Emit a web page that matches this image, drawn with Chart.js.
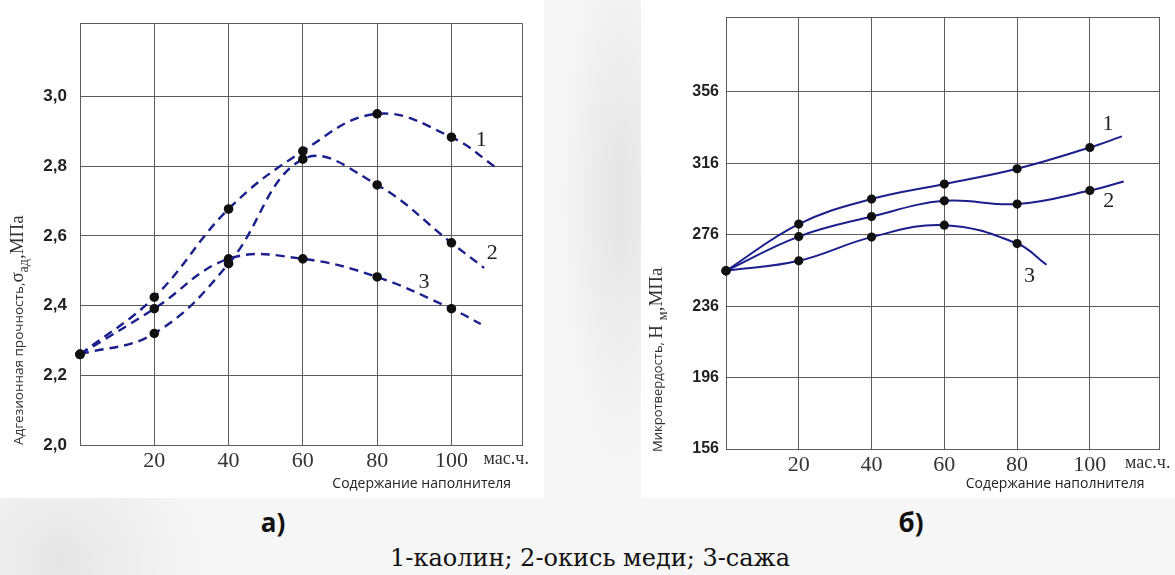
<!DOCTYPE html>
<html>
<head>
<meta charset="utf-8">
<script src="https://cdn.jsdelivr.net/npm/chart.js@4.4.1/dist/chart.umd.min.js"></script>
<style>
  html, body { margin: 0; padding: 0; }
  body {
    width: 1175px; height: 575px; position: relative; overflow: hidden;
    background:
      radial-gradient(circle at 60px 560px, #e6e6e6 0px, rgba(240,240,240,0) 140px),
      radial-gradient(ellipse 60px 260px at 620px 200px, #e4e4e4 0%, rgba(240,240,240,0) 100%),
      #f6f6f6;
    font-family: "Open Sans", sans-serif;
  }
  .panel { position: absolute; top: 0; height: 498px; background: #fff; }
  canvas { position: absolute; top: 0; }
  .mark { position: absolute; font-weight: bold; font-size: 26px; color: #111; transform: translate(-50%, -50%); font-family: "Open Sans", sans-serif; }
  #caption { position: absolute; top: 558px; left: 590px; transform: translate(-50%, -50%); font-family: "DejaVu Serif", serif; font-size: 24px; color: #111; white-space: nowrap; }
</style>
</head>
<body>
<div class="panel" style="left:0; width:544px;"></div>
<div class="panel" style="left:641px; width:534px;"></div>
<canvas id="chartA" width="580" height="498" style="left:0;"></canvas>
<canvas id="chartB" width="575" height="498" style="left:600px;"></canvas>
<div class="mark" style="left:273px; top:522px;">а)</div>
<div class="mark" style="left:911px; top:522px;">б)</div>
<div id="caption">1-каолин; 2-окись меди; 3-сажа</div>
<script>
// filler content, mass parts
const contentTicks = [0, 20, 40, 60, 80, 100, 119];
const adhesionTicks = [2.0, 2.2, 2.4, 2.6, 2.8, 3.0, 3.21];
const hardnessTicks = [156, 196, 236, 276, 316, 356, 398];

// a) adhesion strength, MPa (last point = unmarked tail of the curve)
const kaolinAX = [0, 20, 40, 60, 80, 100, 112.5];
const kaolinAY = [2.26, 2.424, 2.677, 2.843, 2.95, 2.883, 2.792];
const copperAX = [0, 20, 40, 60, 80, 100, 108.8];
const copperAY = [2.26, 2.32, 2.52, 2.82, 2.746, 2.58, 2.508];
const sootAX = [0, 20, 40, 60, 80, 100, 107.9];
const sootAY = [2.26, 2.391, 2.534, 2.534, 2.482, 2.391, 2.347];

// б) microhardness, MPa
const kaolinBX = [0, 20, 40, 60, 80, 100, 108.8];
const kaolinBY = [255.8, 282.0, 296.0, 304.4, 313.0, 324.9, 331.1];
const copperBX = [0, 20, 40, 60, 80, 100, 109.3];
const copperBY = [255.8, 275.0, 286.2, 295.0, 293.2, 300.8, 305.9];
const sootBX = [0, 20, 40, 60, 80, 88.1];
const sootBY = [255.8, 261.4, 274.7, 281.4, 271.1, 259.2];

// curve numbers, placed in data units
const curveNames = ['1', '2', '3'];
const nameXA = [108, 111, 92.6];
const nameYA = [2.875, 2.551, 2.467];
const nameXB = [105, 105.2, 83.4];
const nameYB = [337.7, 294.7, 252.6];

const unitLabel = 'мас.ч.';
const xTitle = 'Содержание наполнителя';

const gridColor = '#5c5c5c';
const lineColor = '#1a1f8c';

function toPoints(xs, ys) {
	return xs.map((x, i) => ({x: x, y: ys[i]}));
}

function curve(xs, ys, dashed) {
	return {
		data: toPoints(xs, ys),
		borderColor: lineColor,
		borderWidth: dashed ? 2.4 : 2,
		borderDash: dashed ? [9, 6] : [],
		tension: 0.4,
		fill: false,
		clip: false,
		pointBackgroundColor: '#111',
		pointBorderColor: '#111',
		pointRadius: ctx => ctx.dataIndex < xs.length - 1 ? 3.6 : 0,
		pointHoverRadius: 0
	};
}

// y titles are mixed-font with a subscript, so draw them by hand
const axisTitlePlugin = {
	id: 'axisTitle',
	afterDraw(chart, args, opts) {
		const {ctx, chartArea} = chart;
		ctx.save();
		ctx.translate(chartArea.left + opts.offsetX, chartArea.bottom + opts.offsetY);
		ctx.rotate(-Math.PI / 2);
		ctx.fillStyle = '#333';
		ctx.textAlign = 'left';
		ctx.textBaseline = 'alphabetic';
		let u = 0;
		for (const run of opts.runs) {
			ctx.font = run.font;
			ctx.fillText(run.text, u, run.dy || 0);
			u += ctx.measureText(run.text).width;
		}
		ctx.restore();
	}
};

const curveNamesPlugin = {
	id: 'curveNames',
	afterDatasetsDraw(chart, args, opts) {
		const {ctx, scales} = chart;
		ctx.save();
		ctx.font = '22px "Liberation Serif"';
		ctx.fillStyle = '#222';
		ctx.textAlign = 'center';
		ctx.textBaseline = 'middle';
		curveNames.forEach((name, i) => {
			ctx.fillText(name, scales.x.getPixelForValue(opts.xs[i]), scales.y.getPixelForValue(opts.ys[i]));
		});
		ctx.restore();
	}
};

function makeChart(id, cfg) {
	return new Chart(document.getElementById(id), {
		type: 'line',
		data: {datasets: cfg.datasets},
		plugins: [axisTitlePlugin, curveNamesPlugin],
		options: {
			responsive: false,
			animation: false,
			devicePixelRatio: 1,
			layout: {padding: cfg.padding},
			plugins: {
				legend: {display: false},
				tooltip: {enabled: false},
				axisTitle: cfg.yTitle,
				curveNames: cfg.names
			},
			scales: {
				x: {
					type: 'linear',
					min: 0,
					max: 119,
					afterBuildTicks: s => { s.ticks = contentTicks.map(v => ({value: v})); },
					afterFit: s => { s.height = cfg.xHeight; s.paddingLeft = 0; s.paddingRight = 0; },
					grid: {color: gridColor, lineWidth: 1, drawTicks: false},
					border: {color: gridColor, width: 1},
					ticks: {
						padding: 3,
						autoSkip: false,
						maxRotation: 0,
						color: '#333',
						font: ctx => ctx.tick && ctx.tick.value === 119
							? {family: '"Liberation Serif"', size: 18}
							: {family: '"Liberation Serif"', size: 22},
						callback: v => v === 0 ? '' : (v === 119 ? unitLabel + '\u00a0'.repeat(cfg.unitPad) : String(v))
					},
					title: {
						display: true,
						text: xTitle + '\u00a0'.repeat(cfg.titlePad),
						align: 'end',
						color: '#222',
						font: {family: '"Open Sans"', size: 14},
						padding: {top: 0, bottom: 6}
					}
				},
				y: {
					type: 'linear',
					min: cfg.yTicks[0],
					max: cfg.yTicks[cfg.yTicks.length - 1],
					afterBuildTicks: s => { s.ticks = cfg.yTicks.map(v => ({value: v})); },
					afterFit: s => { s.width = cfg.yWidth; },
					grid: {color: gridColor, lineWidth: 1, drawTicks: false},
					border: {color: gridColor, width: 1},
					ticks: {
						padding: cfg.yPad,
						color: '#222',
						font: {family: '"Liberation Sans"', size: cfg.yFont, weight: 'bold'},
						callback: (v, i) => i === cfg.yTicks.length - 1 ? '' : cfg.fmt(v)
					}
				}
			}
		}
	});
}

makeChart('chartA', {
	datasets: [
		curve(kaolinAX, kaolinAY, true),
		curve(copperAX, copperAY, true),
		curve(sootAX, sootAY, true)
	],
	yTicks: adhesionTicks,
	fmt: v => v.toFixed(1).replace('.', ','),
	padding: {top: 12, right: 58, left: 0, bottom: 0},
	xHeight: 53,
	yWidth: 80,
	yPad: 13,
	yFont: 17,
	unitPad: 7,
	titlePad: 3,
	names: {xs: nameXA, ys: nameYA},
	yTitle: {
		offsetX: -57,
		offsetY: 0,
		runs: [
			{text: 'Адгезионная прочность,', font: '13.5px "Open Sans"'},
			{text: 'σ', font: '19px "Liberation Serif"'},
			{text: 'ад', font: '14px "Liberation Serif"', dy: 5},
			{text: ',МПа', font: '19px "Liberation Serif"'}
		]
	}
});

makeChart('chartB', {
	datasets: [
		curve(kaolinBX, kaolinBY, false),
		curve(copperBX, copperBY, false),
		curve(sootBX, sootBY, false)
	],
	yTicks: hardnessTicks,
	fmt: v => String(v),
	padding: {top: 17, right: 16, left: 0, bottom: 0},
	xHeight: 49,
	yWidth: 126,
	yPad: 7,
	yFont: 16,
	unitPad: 5,
	titlePad: 4,
	names: {xs: nameXB, ys: nameYB},
	yTitle: {
		offsetX: -64,
		offsetY: 3,
		runs: [
			{text: 'Микротвердость, ', font: '13px "Open Sans"'},
			{text: 'Н', font: '19px "Liberation Serif"'},
			{text: ' ', font: '19px "Liberation Serif"'},
			{text: 'м', font: '14px "Liberation Serif"', dy: 5},
			{text: ',МПа', font: '19px "Liberation Serif"'}
		]
	}
});
</script>
</body>
</html>
